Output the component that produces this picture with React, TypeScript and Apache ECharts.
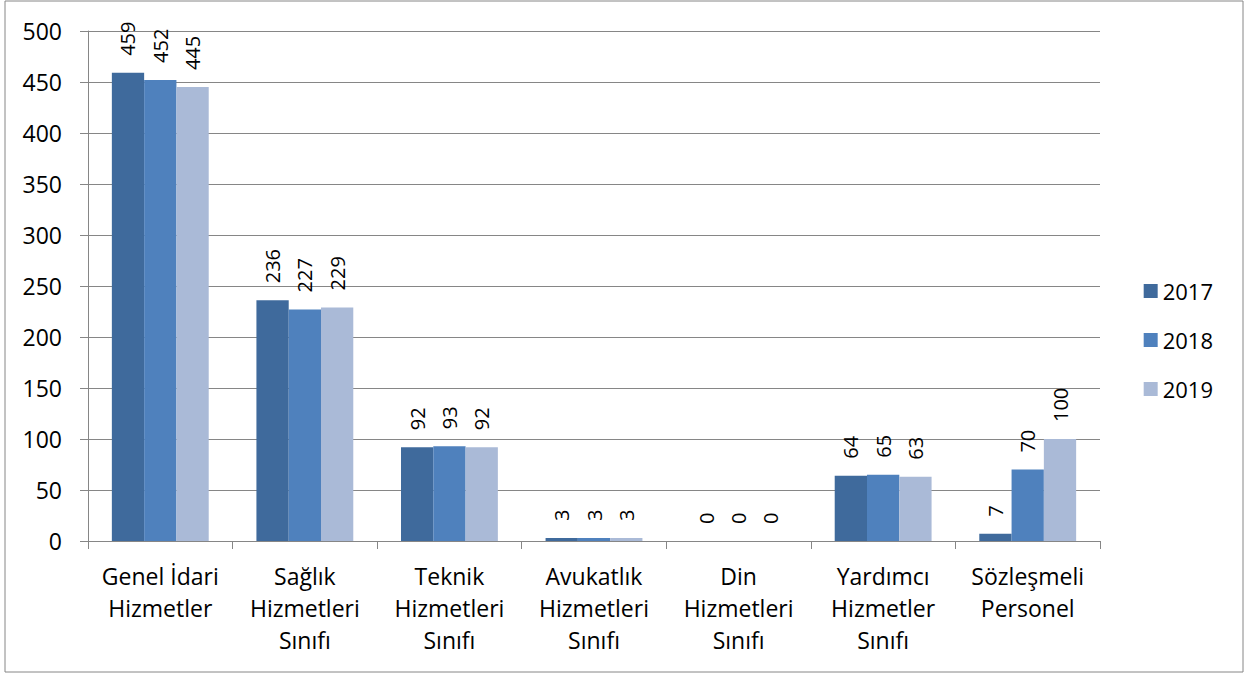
import React, { useEffect, useRef } from "react";
import * as echarts from "echarts";

const categories = [
  "Genel İdari\nHizmetler",
  "Sağlık\nHizmetleri\nSınıfı",
  "Teknik\nHizmetleri\nSınıfı",
  "Avukatlık\nHizmetleri\nSınıfı",
  "Din\nHizmetleri\nSınıfı",
  "Yardımcı\nHizmetler\nSınıfı",
  "Sözleşmeli\nPersonel",
];
const years = ["2017", "2018", "2019"];
const values2017 = [459, 236, 92, 3, 0, 64, 7];
const values2018 = [452, 227, 93, 3, 0, 65, 70];
const values2019 = [445, 229, 92, 3, 0, 63, 100];
const colors = ["#3F6A9C", "#4F81BD", "#AABAD7"];

const FONT = "'Open Sans', sans-serif";

export default function App() {
  const ref = useRef<HTMLDivElement>(null);
  useEffect(() => {
    const chart = echarts.init(ref.current!, undefined, { renderer: "svg" });
    const seriesData = [values2017, values2018, values2019];
    chart.setOption({
      animation: false,
      backgroundColor: "#fff",
      textStyle: { fontFamily: FONT },
      grid: { left: 88, right: 145, top: 31, bottom: 132 },
      legend: {
        orient: "vertical",
        right: 27,
        top: 275,
        itemWidth: 14,
        itemHeight: 14,
        itemGap: 27,
        icon: "rect",
        textStyle: { fontSize: 22, color: "#000", fontFamily: FONT },
        data: years,
      },
      graphic: [
        {
          type: "rect",
          shape: { x: 5, y: 1, width: 1238, height: 671 },
          style: { fill: "none", stroke: "#868686", lineWidth: 1 },
          silent: true,
        },
      ],
      xAxis: {
        type: "category",
        data: categories,
        axisLine: { lineStyle: { color: "#868686" } },
        axisTick: { show: true, length: 8, lineStyle: { color: "#868686" } },
        axisLabel: {
          interval: 0,
          fontSize: 23,
          lineHeight: 32,
          color: "#000",
          margin: 19,
          fontFamily: FONT,
        },
      },
      yAxis: {
        type: "value",
        min: 0,
        max: 500,
        interval: 50,
        axisLine: { show: true, lineStyle: { color: "#868686" } },
        axisTick: { show: true, length: 8, lineStyle: { color: "#868686" } },
        splitLine: { lineStyle: { color: "#868686" } },
        axisLabel: { fontSize: 23, color: "#000", margin: 26, fontFamily: FONT },
      },
      series: years.map((y, i) => ({
        name: y,
        type: "bar",
        data: seriesData[i],
        barGap: "0%",
        barCategoryGap: "33%",
        itemStyle: { color: colors[i] },
        label: {
          show: true,
          position: "top",
          rotate: 90,
          align: "left",
          verticalAlign: "middle",
          distance: 17,
          fontSize: 20,
          color: "#000",
          fontFamily: FONT,
        },
      })),
    });
    return () => chart.dispose();
  }, []);
  return (
    <div
      ref={ref}
      style={{ position: "absolute", left: 0, top: 0, width: 1245, height: 673 }}
    />
  );
}
